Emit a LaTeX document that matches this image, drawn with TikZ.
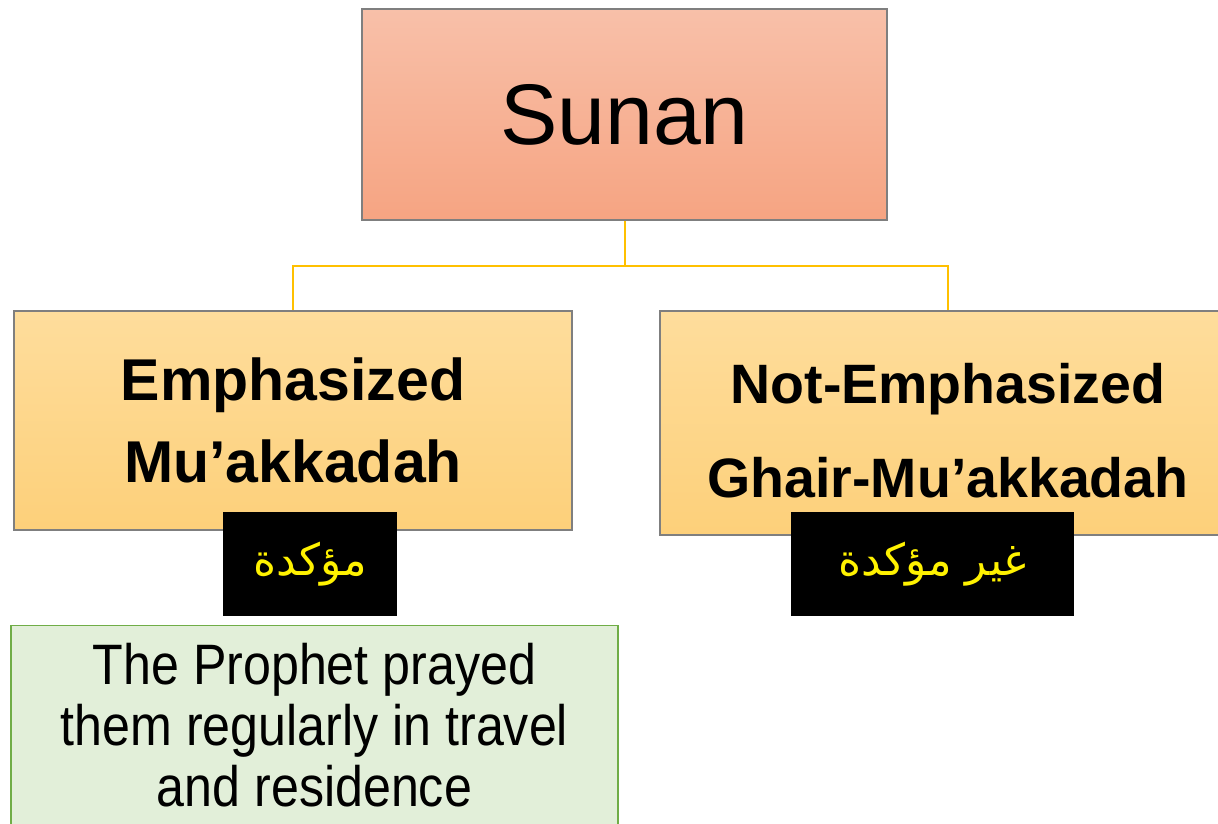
\documentclass[tikz,border=0pt]{standalone}
\usepackage{fontspec}
\setmainfont{Liberation Sans}
\newfontfamily\arabicfont[Script=Arabic]{DejaVu Sans}
\newfontfamily\narrowfont[FakeStretch=0.88]{Liberation Sans}
\TeXXeTstate=1
\usetikzlibrary{shadings}
\definecolor{topA}{HTML}{F8C0A9}
\definecolor{topB}{HTML}{F6A482}
\definecolor{ylA}{HTML}{FEDD9C}
\definecolor{ylB}{HTML}{FDD07A}
\definecolor{conn}{HTML}{FFC000}
\definecolor{grfill}{HTML}{E2EFD9}
\definecolor{grline}{HTML}{70AD47}
\definecolor{boxline}{HTML}{7F7F7F}
\tikzset{
  box/.style={draw=boxline, line width=1.2pt, inner sep=0pt, align=center},
  topbox/.style={box, top color=topA, bottom color=topB},
  subbox/.style={box, top color=ylA, bottom color=ylB},
  arbox/.style={fill=black, inner sep=0pt, text=yellow},
  notebox/.style={draw=grline, line width=1.2pt, fill=grfill, inner sep=0pt, align=center},
  link/.style={draw=conn, line width=2pt},
}
\begin{document}
\begin{tikzpicture}[x=1pt,y=-1pt]
\useasboundingbox (0,0) rectangle (1218,824);
% boxes
\node[topbox, minimum width=525pt, minimum height=211pt, font=\fontsize{86}{90}\selectfont] (top) at (624.5,114.5)
  {Sunan};
\node[subbox, minimum width=558pt, minimum height=219pt, font=\fontsize{59}{82}\selectfont\bfseries] (left) at (293,420.5)
  {Emphasized\\Mu’akkadah};
\node[subbox, minimum width=576pt, minimum height=224pt] (right) at (948,423) {};
\node[align=center, inner sep=0pt, font=\fontsize{55.5}{94}\selectfont\bfseries] (rightlabel) at (948,431)
  {Not-Emphasized\\Ghair-Mu’akkadah};
% connectors
\coordinate (mid) at (624.5,266);
\draw[link] (top.south) -- (mid) -| (left.north);
\draw[link] (mid) -| (right.north);
% arabic labels
\node[arbox, minimum width=174pt, minimum height=104pt, font=\fontsize{44}{50}\selectfont\arabicfont] (arL) at (310,564)
  {\beginR مؤكدة\endR};
\node[arbox, minimum width=283pt, minimum height=104pt, font=\fontsize{44}{50}\selectfont\arabicfont] (arR) at (932.5,564)
  {\beginR غير مؤكدة\endR};
% note
\node[notebox, minimum width=607pt, minimum height=205pt, anchor=north] (note) at (314.5,625)
  {};
\node[anchor=north, align=center, inner sep=0pt, font=\fontsize{57}{61}\selectfont\narrowfont] (notetext) at (314.5,643)
  {The Prophet prayed\\them regularly in travel\\and residence};
\end{tikzpicture}
\end{document}
